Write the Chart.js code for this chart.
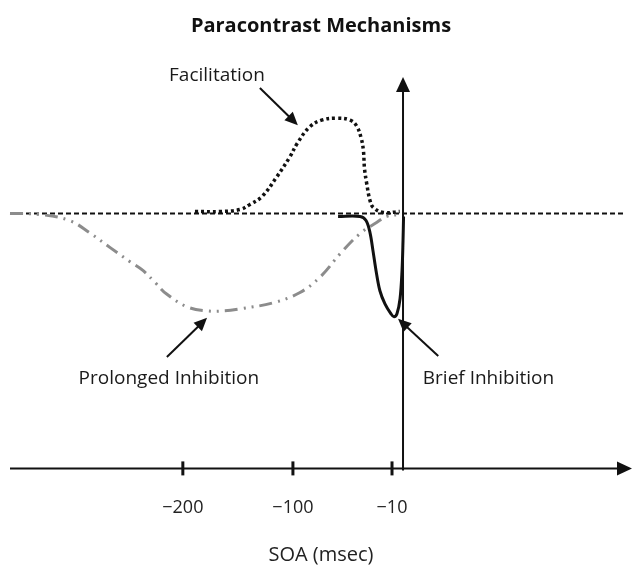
<!DOCTYPE html>
<html lang="en">
<head>
<meta charset="UTF-8">
<title>Paracontrast Mechanisms</title>
<script src="https://cdn.jsdelivr.net/npm/chart.js"></script>
<style>
  html, body { margin: 0; padding: 0; background: #fff; }
  #wrap { width: 634px; height: 569px; }
</style>
</head>
<body>
<div id="wrap"><canvas id="chart"></canvas></div>
<script>
// SOA in msec (x) against effect relative to baseline (y, arbitrary units)
const xTicks = [-200, -100, -10];

const baselineX = [-357, 202];
const baselineY = [0, 0];

const facilX = [-189, -166, -148, -139, -128, -115, -103, -96, -85, -74, -60, -48, -42, -38, -36, -35, -33, -30, -27, -18, -3];
const facilY = [0.02, 0.02, 0.04, 0.09, 0.17, 0.36, 0.56, 0.70, 0.86, 0.93, 0.95, 0.93, 0.87, 0.75, 0.63, 0.45, 0.30, 0.13, 0.06, 0.01, 0.02];

const prolongX = [-357, -330, -303, -285, -266, -248, -236, -225, -215, -196, -178, -162, -148, -118, -94, -75, -57, -39, -24, -15, -3];
const prolongY = [0, -0.01, -0.07, -0.19, -0.34, -0.48, -0.57, -0.69, -0.80, -0.93, -0.97, -0.97, -0.95, -0.89, -0.79, -0.63, -0.40, -0.20, -0.09, -0.03, -0.01];

const briefX = [-59, -39, -33.6, -30, -27.3, -24.5, -21, -16.4, -10.9, -8.2, -5.5, -2.7, -0.9, 0, 0.5];
const briefY = [-0.03, -0.03, -0.07, -0.19, -0.37, -0.57, -0.77, -0.90, -1.0, -1.03, -1.0, -0.85, -0.57, -0.27, -0.03];

// labels with arrows, in data units
const notes = [
  { text: 'Facilitation', x: -169, y: 1.37, align: 'center', from: [-130, 1.25], to: [-95.5, 0.88] },
  { text: 'Prolonged Inhibition', x: -212.7, y: -1.65, align: 'center', from: [-214.5, -1.43], to: [-178, -1.04] },
  { text: 'Brief Inhibition', x: 18, y: -1.65, align: 'left', from: [32, -1.42], to: [-4.5, -1.05] }
];

const toPts = (xs, ys) => xs.map((x, i) => ({ x: x, y: ys[i] }));
const FONT = '"Open Sans", "DejaVu Sans", sans-serif';

function arrowHead(ctx, x1, y1, x2, y2, len, half) {
  const a = Math.atan2(y2 - y1, x2 - x1);
  ctx.beginPath();
  ctx.moveTo(x2, y2);
  ctx.lineTo(x2 - len * Math.cos(a) + half * Math.sin(a), y2 - len * Math.sin(a) - half * Math.cos(a));
  ctx.lineTo(x2 - len * Math.cos(a) - half * Math.sin(a), y2 - len * Math.sin(a) + half * Math.cos(a));
  ctx.closePath();
  ctx.fill();
}

const schematic = {
  id: 'schematic',
  afterDatasetsDraw(chart) {
    const { ctx, chartArea, scales } = chart;
    const xs = scales.x, ys = scales.y;
    const axisY = chartArea.bottom;
    const zeroX = xs.getPixelForValue(0);
    ctx.save();
    ctx.strokeStyle = '#111';
    ctx.fillStyle = '#111';

    // horizontal axis with arrow
    ctx.lineWidth = 2;
    ctx.beginPath();
    ctx.moveTo(chartArea.left, axisY);
    ctx.lineTo(chartArea.right - 10, axisY);
    ctx.stroke();
    arrowHead(ctx, chartArea.left, axisY, chartArea.right, axisY, 15, 7);

    // vertical axis with arrow
    ctx.beginPath();
    ctx.moveTo(zeroX, axisY + 2);
    ctx.lineTo(zeroX, chartArea.top + 10);
    ctx.stroke();
    arrowHead(ctx, zeroX, axisY, zeroX, chartArea.top, 15, 7);

    // tick marks across the axis
    ctx.lineWidth = 3;
    xs.ticks.forEach(t => {
      const px = xs.getPixelForValue(t.value);
      ctx.beginPath();
      ctx.moveTo(px, axisY - 7);
      ctx.lineTo(px, axisY + 7);
      ctx.stroke();
    });

    // annotations
    ctx.font = '19px ' + FONT;
    ctx.textBaseline = 'middle';
    ctx.lineWidth = 2;
    notes.forEach(n => {
      ctx.fillStyle = '#1a1a1a';
      ctx.textAlign = n.align;
      ctx.fillText(n.text, xs.getPixelForValue(n.x), ys.getPixelForValue(n.y));
      const x1 = xs.getPixelForValue(n.from[0]), y1 = ys.getPixelForValue(n.from[1]);
      const x2 = xs.getPixelForValue(n.to[0]), y2 = ys.getPixelForValue(n.to[1]);
      ctx.fillStyle = '#111';
      ctx.beginPath();
      ctx.moveTo(x1, y1);
      ctx.lineTo(x2 - (x2 - x1) * 0.2, y2 - (y2 - y1) * 0.2);
      ctx.stroke();
      arrowHead(ctx, x1, y1, x2, y2, 13, 6);
    });
    ctx.restore();
  }
};

new Chart(document.getElementById('chart'), {
  type: 'scatter',
  data: {
    datasets: [
      {
        label: 'Brief Inhibition',
        data: toPts(briefX, briefY),
        showLine: true,
        borderColor: '#111',
        borderWidth: 3,
        tension: 0.35,
        pointRadius: 0
      },
      {
        label: 'Facilitation',
        data: toPts(facilX, facilY),
        showLine: true,
        borderColor: '#111',
        borderWidth: 3.5,
        borderDash: [3, 3],
        tension: 0.4,
        pointRadius: 0
      },
      {
        label: 'Prolonged Inhibition',
        data: toPts(prolongX, prolongY),
        showLine: true,
        borderColor: '#8c8c8c',
        borderWidth: 3,
        borderDash: [13, 6, 2, 6, 2, 6],
        tension: 0.4,
        pointRadius: 0
      },
      {
        label: 'Baseline',
        data: toPts(baselineX, baselineY),
        showLine: true,
        borderColor: '#111',
        borderWidth: 2,
        borderDash: [5, 3],
        pointRadius: 0
      }
    ]
  },
  options: {
    responsive: true,
    maintainAspectRatio: false,
    animation: false,
    clip: false,
    layout: { padding: { left: 10, right: 2, top: 0, bottom: 0 } },
    plugins: {
      legend: { display: false },
      tooltip: { enabled: false },
      title: {
        display: true,
        text: 'Paracontrast Mechanisms',
        color: '#111',
        font: { family: FONT, size: 20, weight: 'bold' },
        padding: { top: 14, bottom: 39 }
      }
    },
    scales: {
      x: {
        type: 'linear',
        min: -357,
        max: 208,
        grid: { display: false, drawTicks: false },
        border: { display: false },
        afterBuildTicks: s => { s.ticks = xTicks.map(v => ({ value: v })); },
        ticks: {
          padding: 29,
          autoSkip: false,
          maxRotation: 0,
          color: '#222',
          font: { family: FONT, size: 18 },
          callback: v => '\u2212' + Math.abs(v)
        },
        title: {
          display: true,
          text: 'SOA (msec)',
          color: '#222',
          font: { family: FONT, size: 20 },
          padding: { top: -5, bottom: 2 }
        }
      },
      y: {
        display: false,
        min: -2.54,
        max: 1.36
      }
    }
  },
  plugins: [schematic]
});
</script>
</body>
</html>
